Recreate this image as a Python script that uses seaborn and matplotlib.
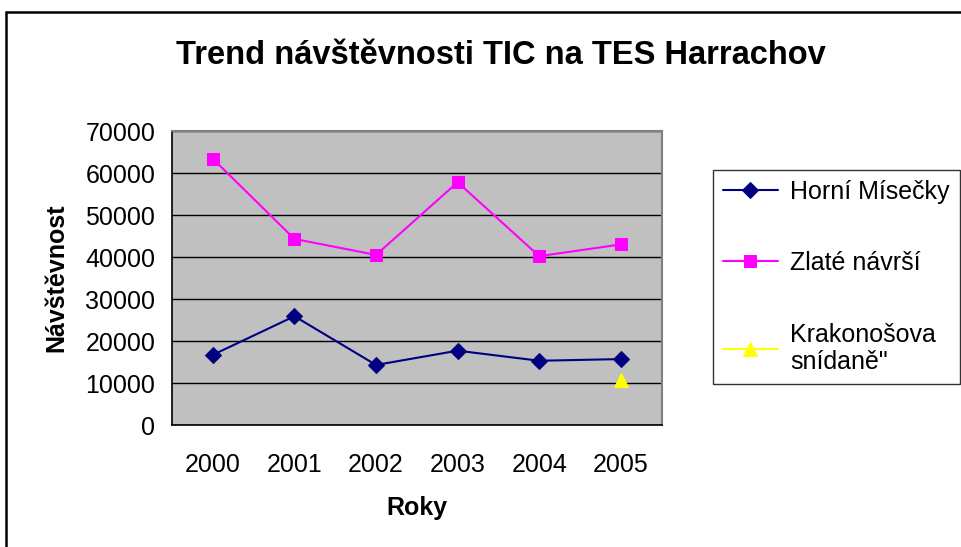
import matplotlib
matplotlib.use("Agg")
from matplotlib import pyplot as plt
from matplotlib.lines import Line2D
import pandas as pd
import numpy as np
import seaborn as sns

years = [2000, 2001, 2002, 2003, 2004, 2005]
horni = [16700, 25900, 14300, 17700, 15300, 15700]
zlate = [63400, 44300, 40500, 57800, 40200, 43000]
krakonos = [np.nan, np.nan, np.nan, np.nan, np.nan, 10600]
names = ["Horní Mísečky", "Zlaté návrší", "Krakonošova\nsnídaně\""]
colors = ["#000080", "#FF00FF", "#FFFF00"]
markers = ["D", "s", "^"]
msizes = [8, 9, 10]

sns.set_style("white")
plt.rcParams['font.family'] = ['Liberation Sans', 'DejaVu Sans']
plt.rcParams['text.color'] = 'black'
plt.rcParams['axes.labelcolor'] = 'black'
plt.rcParams['xtick.color'] = 'black'
plt.rcParams['ytick.color'] = 'black'

fig = plt.figure(figsize=(9.62, 5.47), dpi=100)
ax = fig.add_axes([0.1788, 0.223, 0.509, 0.5375])
ax.set_facecolor("#C0C0C0")

for vals, name, c, m, ms in zip([horni, zlate, krakonos], names, colors, markers, msizes):
    df = pd.DataFrame({"Roky": years, "val": vals}).dropna()
    sns.lineplot(data=df, x="Roky", y="val", ax=ax, color=c, marker=m,
                 markersize=ms, markeredgecolor=c, linewidth=1.5, label=name)

ax.set_xlim(1999.5, 2005.5)
ax.set_ylim(0, 70000)
ax.set_yticks(range(0, 70001, 10000))
ax.set_yticklabels([str(v) for v in range(0, 70001, 10000)], fontsize=18)
ax.set_xticks(np.arange(1999.5, 2005.6, 1))
ax.set_xticklabels([])
ax.set_xticks(years, minor=True)
ax.set_xticklabels([str(y) for y in years], minor=True, fontsize=18)
ax.tick_params(axis="x", which="major", direction="out", length=6, width=1, color="black")
ax.tick_params(axis="x", which="minor", length=0, pad=20)
ax.tick_params(axis="y", direction="out", length=6, width=1, color="black", pad=6)
ax.yaxis.grid(True, color="black", linewidth=1)
ax.set_axisbelow(True)
for s in ["top", "right"]:
    ax.spines[s].set_color("#808080")
    ax.spines[s].set_linewidth(1.5)
for s in ["left", "bottom"]:
    ax.spines[s].set_color("black")
    ax.spines[s].set_linewidth(1.2)

ax.set_xlabel("Roky", fontsize=18, fontweight="bold", labelpad=14)
ax.set_ylabel("Návštěvnost", fontsize=18, fontweight="bold", labelpad=12)
fig.text(0.521, 0.898, "Trend návštěvnosti TIC na TES Harrachov", ha="center",
         va="center", fontsize=23.5, fontweight="bold")

leg = ax.legend(loc="upper left", bbox_to_anchor=(0.741, 0.69), bbox_transform=fig.transFigure,
                fontsize=18, frameon=True, fancybox=False, edgecolor="black",
                handlelength=2.2, labelspacing=1.9, borderpad=0.4, handletextpad=0.5,
                borderaxespad=0)
leg.get_frame().set_linewidth(1)

fig.add_artist(Line2D([0.006, 0.006], [0, 0.978], color="black", linewidth=1.8))
fig.add_artist(Line2D([0.006, 1], [0.978, 0.978], color="black", linewidth=1.8))

fig.savefig("out.png", dpi=100)
